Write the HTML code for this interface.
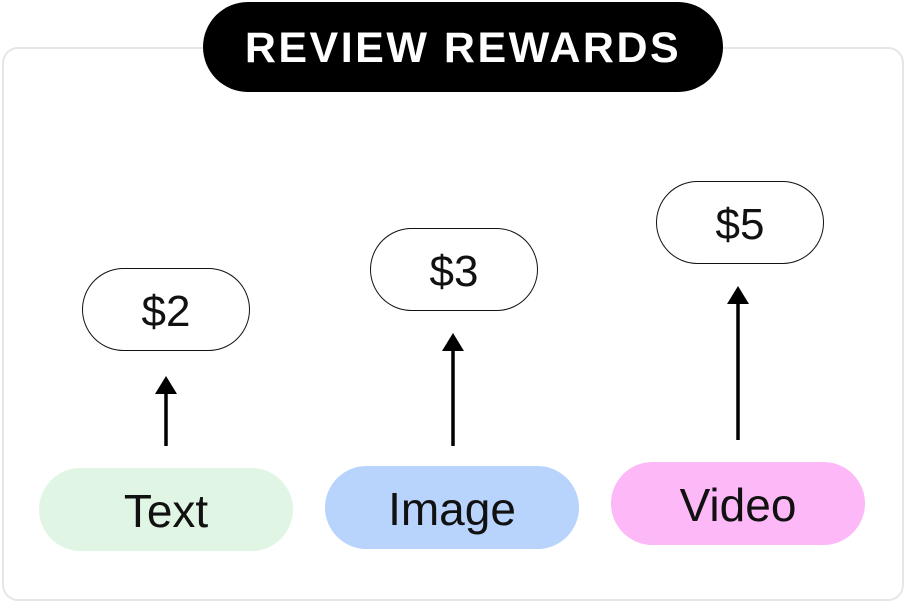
<!DOCTYPE html>
<html><head><style>
body{margin:0;width:906px;height:603px;background:#fff;position:relative;overflow:hidden;font-family:"Liberation Sans",sans-serif;}
.abs{position:absolute;box-sizing:border-box;display:flex;align-items:center;justify-content:center;}
.frame{left:2px;top:47px;width:902px;height:554px;border:2px solid #e6e6e6;border-radius:16px;}
.title{left:203px;top:2px;width:520px;height:90px;background:#000;border-radius:45px;color:#fff;font-weight:bold;font-size:43px;letter-spacing:2.5px;padding-top:2px;}
.price{width:168px;height:83px;border:1.5px solid #111;border-radius:42px;background:#fff;font-size:44px;color:#111;padding-top:4px;}
.cat{width:254px;height:83px;border-radius:42px;font-size:46px;color:#111;padding-top:3px;}
</style></head><body>
<div class="abs frame"></div>
<div class="abs title">REVIEW REWARDS</div>
<div class="abs price" style="left:82px;top:268px">$2</div>
<div class="abs price" style="left:370px;top:228px">$3</div>
<div class="abs price" style="left:656px;top:181px">$5</div>
<svg width="906" height="603" style="position:absolute;left:0;top:0">
<g stroke="#000" stroke-width="3.5"><line x1="166" y1="446" x2="166" y2="392"/><line x1="453" y1="446" x2="453" y2="349"/><line x1="738" y1="440" x2="738" y2="302"/></g>
<g fill="#000"><polygon points="166,376 155,394 177,394"/><polygon points="453,333 442,351 464,351"/><polygon points="738,286 727,304 749,304"/></g>
</svg>
<div class="abs cat" style="left:39px;top:468px;background:#e0f5e4">Text</div>
<div class="abs cat" style="left:325px;top:466px;background:#b8d4fc">Image</div>
<div class="abs cat" style="left:611px;top:462px;background:#fdb8f8">Video</div>
</body></html>
